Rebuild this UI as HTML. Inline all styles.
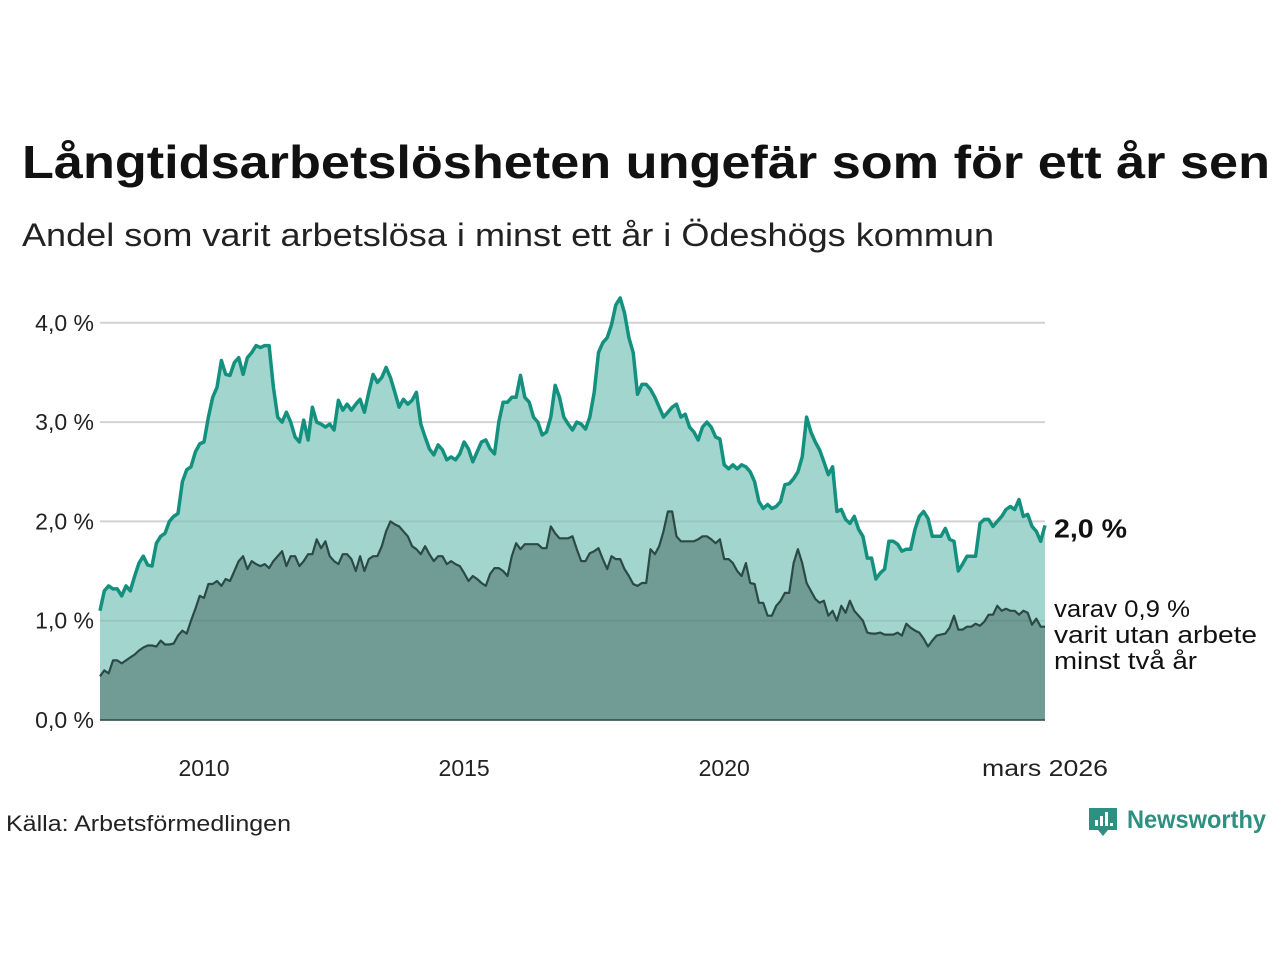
<!DOCTYPE html>
<html><head><meta charset="utf-8"><style>
body{margin:0;background:#fff;width:1280px;height:960px;overflow:hidden}
svg{display:block;font-family:"Liberation Sans","DejaVu Sans",sans-serif}
</style></head><body>
<svg id="chart" width="1280" height="960">
<text x="22" y="178" font-size="46" font-weight="bold" fill="#111" textLength="1248" lengthAdjust="spacingAndGlyphs">Långtidsarbetslösheten ungefär som för ett år sen</text>
<text x="22" y="246" font-size="32" fill="#222" textLength="972" lengthAdjust="spacingAndGlyphs">Andel som varit arbetslösa i minst ett år i Ödeshögs kommun</text>
<g id="plot"></g>
<text x="6" y="831" font-size="22" fill="#222" textLength="285" lengthAdjust="spacingAndGlyphs">Källa: Arbetsförmedlingen</text>
<g>
<path d="M1089,808 h28 v22 h-9 l-5,6 l-5,-6 h-9 z" fill="#2e9080"/>
<rect x="1095" y="820" width="3" height="6" fill="#fff"/><rect x="1100" y="816" width="3" height="10" fill="#fff"/><rect x="1105" y="812" width="3" height="14" fill="#fff"/><rect x="1110" y="823" width="3" height="3" fill="#fff"/>
<text x="1127" y="828" font-size="25" font-weight="bold" fill="#2e9080" textLength="139" lengthAdjust="spacingAndGlyphs">Newsworthy</text>
</g>
</svg>
<script>
const total = [
1.1,1.3,1.35,1.32,1.32,1.25,1.35,1.3,1.45,1.58,1.65,1.56,
1.55,1.78,1.85,1.88,2.0,2.05,2.08,2.4,2.52,2.55,2.7,2.78,
2.8,3.05,3.25,3.35,3.62,3.48,3.47,3.6,3.65,3.48,3.65,3.7,
3.77,3.75,3.77,3.77,3.35,3.05,3.0,3.1,3.0,2.85,2.8,3.02,
2.82,3.15,3.0,2.98,2.95,2.98,2.92,3.22,3.12,3.18,3.12,3.18,
3.23,3.1,3.3,3.48,3.4,3.45,3.55,3.45,3.3,3.15,3.23,3.18,
3.22,3.3,2.98,2.85,2.73,2.67,2.77,2.72,2.62,2.65,2.62,2.68,
2.8,2.73,2.6,2.7,2.8,2.82,2.73,2.68,3.0,3.2,3.2,3.25,
3.25,3.47,3.25,3.2,3.05,3.0,2.87,2.9,3.05,3.37,3.25,3.05,
2.98,2.92,3.0,2.98,2.93,3.05,3.3,3.7,3.8,3.85,3.98,4.18,
4.25,4.1,3.85,3.7,3.28,3.38,3.38,3.33,3.25,3.15,3.05,3.1,
3.15,3.18,3.05,3.08,2.95,2.9,2.82,2.95,3.0,2.95,2.85,2.83,
2.57,2.53,2.57,2.53,2.57,2.55,2.5,2.4,2.2,2.13,2.17,2.13,
2.15,2.2,2.37,2.38,2.43,2.5,2.65,3.05,2.9,2.8,2.72,2.6,
2.47,2.55,2.1,2.12,2.02,1.98,2.05,1.92,1.85,1.63,1.63,1.42,
1.48,1.52,1.8,1.8,1.77,1.7,1.72,1.72,1.92,2.05,2.1,2.03,
1.85,1.85,1.85,1.93,1.82,1.8,1.5,1.57,1.65,1.65,1.65,1.98,
2.02,2.02,1.95,2.0,2.05,2.12,2.15,2.12,2.22,2.05,2.07,1.95,
1.9,1.8,1.96];
const twoYear = [
0.44,0.5,0.47,0.6,0.6,0.57,0.6,0.63,0.66,0.7,0.73,0.75,
0.75,0.74,0.8,0.76,0.76,0.77,0.85,0.9,0.87,1.0,1.12,1.25,
1.23,1.37,1.37,1.4,1.35,1.42,1.4,1.5,1.6,1.65,1.52,1.6,
1.57,1.55,1.57,1.53,1.6,1.65,1.7,1.55,1.65,1.65,1.55,1.6,
1.67,1.67,1.82,1.73,1.8,1.65,1.6,1.57,1.67,1.67,1.62,1.5,
1.65,1.5,1.62,1.65,1.65,1.75,1.9,2.0,1.97,1.95,1.9,1.85,
1.75,1.72,1.67,1.75,1.67,1.6,1.65,1.65,1.57,1.6,1.57,1.55,
1.48,1.4,1.45,1.42,1.38,1.35,1.47,1.53,1.53,1.5,1.45,1.65,
1.78,1.72,1.77,1.77,1.77,1.77,1.73,1.73,1.95,1.88,1.83,1.83,
1.83,1.85,1.72,1.6,1.6,1.68,1.7,1.73,1.62,1.52,1.65,1.62,
1.62,1.52,1.45,1.37,1.35,1.38,1.38,1.72,1.67,1.75,1.9,2.1,
2.1,1.85,1.8,1.8,1.8,1.8,1.82,1.85,1.85,1.82,1.78,1.82,
1.62,1.62,1.58,1.5,1.45,1.58,1.38,1.37,1.18,1.18,1.05,1.05,
1.15,1.2,1.28,1.28,1.58,1.72,1.58,1.38,1.3,1.22,1.18,1.2,
1.05,1.1,1.0,1.15,1.08,1.2,1.1,1.05,1.0,0.88,0.87,0.87,
0.88,0.86,0.86,0.86,0.88,0.85,0.97,0.93,0.9,0.88,0.82,0.74,
0.8,0.85,0.86,0.87,0.93,1.05,0.91,0.91,0.94,0.94,0.97,0.95,
0.99,1.06,1.06,1.15,1.1,1.12,1.1,1.1,1.06,1.1,1.08,0.96,
1.02,0.94,0.94];
const yTicks = [0,1,2,3,4];
const yTickLabels = ["0,0 %","1,0 %","2,0 %","3,0 %","4,0 %"];
const xTickYears = [2010,2015,2020];
const xTickLabels = ["2010","2015","2020"];
const startYear = 2008, lastLabel = "mars 2026";

const NS="http://www.w3.org/2000/svg";
const g=document.getElementById('plot');
const X0=100,X1=1045,Y0=720,PXU=99.3;
const n=total.length;
const xm=i=>X0+(X1-X0)*i/(n-1);
const xy=yr=>xm((yr-startYear)*12);
const y=v=>Y0-v*PXU;
function mk(t,a){const e=document.createElementNS(NS,t);for(const k in a)e.setAttribute(k,a[k]);g.appendChild(e);return e;}
function line(arr){return arr.map((v,i)=>(i?'L':'M')+xm(i).toFixed(1)+','+y(v).toFixed(1)).join('');}
function area(arr){return line(arr)+'L'+X1+','+Y0+'L'+X0+','+Y0+'Z';}
yTicks.forEach((t,i)=>{
 const l=mk('line',{x1:X0,x2:X1,y1:y(t),y2:y(t),stroke:'#e2e2e6','stroke-width':2});
 
 
 const tx=mk('text',{x:94,y:y(t)+8,'text-anchor':'end','font-size':23,fill:'#222'});
 tx.textContent=yTickLabels[i];
 
 
});
let a1=mk('path',{d:area(total),fill:'#a3d5cf'});


let a2=mk('path',{d:area(twoYear),fill:'#719c96'});


yTicks.forEach(t=>{
 if(t===0)return;
 const l=mk('line',{x1:X0,x2:X1,y1:y(t),y2:y(t),stroke:'rgba(0,0,0,0.07)','stroke-width':2});
 
 
});
let l1=mk('path',{d:line(total),fill:'none',stroke:'#14907f','stroke-width':3.5,'stroke-linejoin':'round'});


let l2=mk('path',{d:line(twoYear),fill:'none',stroke:'#2b4a45','stroke-width':2.2,'stroke-linejoin':'round'});


let base=mk('line',{x1:X0,x2:X1,y1:Y0,y2:Y0,stroke:'#2b4a45','stroke-width':1.5});


xTickYears.forEach((yr,i)=>{
 const tx=mk('text',{x:xy(yr),y:776,'text-anchor':'middle','font-size':23,fill:'#222'});
 tx.textContent=xTickLabels[i];
 
 
});
const lt=mk('text',{x:X1,y:776,'text-anchor':'middle','font-size':23,fill:'#222',textLength:126,lengthAdjust:'spacingAndGlyphs'});
lt.textContent=lastLabel;


const fmt=v=>(Math.round(v*10)/10).toFixed(1).replace('.',',')+' %';
const v1=mk('text',{x:1054,y:y(total[n-1])+12,'font-size':26,'font-weight':'bold',fill:'#111',textLength:73,lengthAdjust:'spacingAndGlyphs'});
v1.textContent=fmt(total[n-1]);


const lens=[136,203,143];
["varav "+fmt(twoYear[n-1]),"varit utan arbete","minst två år"].forEach((s,i)=>{
 const t=mk('text',{x:1054,y:617+i*26,'font-size':24,fill:'#111',textLength:lens[i],lengthAdjust:'spacingAndGlyphs'});
 t.textContent=s;
 
 
});
</script>
</body></html>
